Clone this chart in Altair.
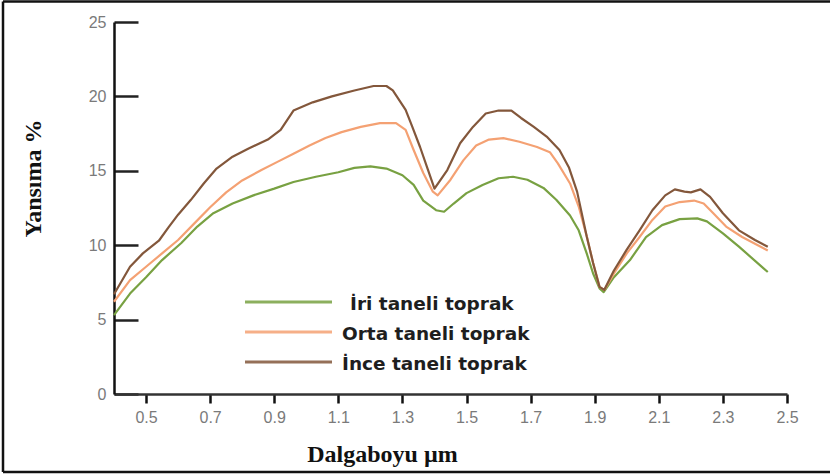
import altair as alt
import pandas as pd

# Spectral reflectance of three soil textures (wavelength in µm, reflectance in %)
wl_iri = [0.40, 0.45, 0.50, 0.55, 0.61, 0.66, 0.71, 0.77, 0.835, 0.90, 0.96, 1.03, 1.10, 1.15,
          1.20, 1.25, 1.30, 1.335, 1.365, 1.405, 1.43, 1.46, 1.50, 1.55, 1.60, 1.645, 1.69,
          1.74, 1.78, 1.823, 1.85, 1.875, 1.895, 1.915, 1.928, 1.96, 2.01, 2.06, 2.11, 2.165,
          2.22, 2.25, 2.30, 2.35, 2.44]
r_iri = [5.3, 6.75, 7.85, 9.0, 10.15, 11.25, 12.15, 12.8, 13.35, 13.8, 14.25, 14.6, 14.9, 15.2,
         15.3, 15.15, 14.7, 14.05, 13.0, 12.35, 12.25, 12.8, 13.5, 14.05, 14.5, 14.6, 14.4,
         13.85, 13.05, 12.0, 11.0, 9.45, 8.1, 7.1, 6.85, 7.85, 9.0, 10.55, 11.35, 11.75,
         11.8, 11.6, 10.8, 9.9, 8.2]

wl_orta = [0.40, 0.45, 0.50, 0.55, 0.60, 0.65, 0.70, 0.75, 0.80, 0.86, 0.91, 0.96, 1.01, 1.06,
           1.11, 1.17, 1.23, 1.28, 1.31, 1.335, 1.365, 1.395, 1.41, 1.45, 1.49, 1.53, 1.57,
           1.615, 1.665, 1.72, 1.76, 1.785, 1.823, 1.85, 1.875, 1.895, 1.915, 1.93, 1.96,
           2.00, 2.04, 2.08, 2.12, 2.165, 2.21, 2.24, 2.27, 2.31, 2.36, 2.44]
r_orta = [6.2, 7.65, 8.55, 9.45, 10.35, 11.45, 12.55, 13.55, 14.35, 15.05, 15.6, 16.15, 16.7, 17.2,
          17.6, 17.95, 18.2, 18.2, 17.75, 16.4, 14.85, 13.6, 13.35, 14.4, 15.7, 16.7, 17.1,
          17.2, 16.95, 16.6, 16.25, 15.5, 14.15, 12.6, 10.6, 8.8, 7.2, 7.0, 8.1,
          9.45, 10.55, 11.7, 12.6, 12.9, 13.0, 12.8, 12.15, 11.25, 10.55, 9.65]

wl_ince = [0.40, 0.45, 0.49, 0.54, 0.57, 0.60, 0.64, 0.68, 0.72, 0.77, 0.82, 0.88, 0.92, 0.96,
           1.02, 1.08, 1.15, 1.21, 1.25, 1.27, 1.31, 1.33, 1.355, 1.38, 1.40, 1.44, 1.48,
           1.52, 1.56, 1.60, 1.64, 1.67, 1.71, 1.75, 1.79, 1.82, 1.845, 1.875, 1.895, 1.915,
           1.93, 1.96, 2.00, 2.04, 2.08, 2.12, 2.15, 2.18, 2.20, 2.23, 2.26, 2.30, 2.35,
           2.40, 2.44]
r_ince = [6.7, 8.55, 9.45, 10.3, 11.2, 12.05, 13.05, 14.15, 15.15, 15.95, 16.5, 17.1, 17.75, 19.05,
          19.6, 20.0, 20.4, 20.7, 20.7, 20.4, 19.1, 18.0, 16.6, 15.05, 13.8, 15.05, 16.85,
          17.95, 18.85, 19.05, 19.05, 18.55, 17.95, 17.3, 16.4, 15.2, 13.6, 10.6, 8.8, 7.2,
          7.0, 8.3, 9.7, 11.0, 12.35, 13.35, 13.75, 13.6, 13.55, 13.75, 13.25, 12.15, 11.0,
          10.35, 9.9]

series_names = ["İri taneli toprak", "Orta taneli toprak", "İnce taneli toprak"]
series_colors = ["#78a142", "#f4a173", "#83573b"]

x_tick_values = [0.5, 0.7, 0.9, 1.1, 1.3, 1.5, 1.7, 1.9, 2.1, 2.3, 2.5]
y_tick_values = [0, 5, 10, 15, 20, 25]

# Page layout (pixels)
W, H = 830, 476
LEFT, TOP, RIGHT_EDGE, BOTTOM_EDGE = 114, 22, 787, 394
PW, PH = RIGHT_EDGE - LEFT, BOTTOM_EDGE - TOP
Y_TICK_LEN = 24  # inward tick length on the reflectance axis, px

x_enc = alt.X(
    "wl:Q",
    scale=alt.Scale(domain=[0.4, 2.5], nice=False, zero=False),
    axis=alt.Axis(
        values=x_tick_values, format=".1f", title="Dalgaboyu µm",
        grid=False, domainColor="#333333", domainWidth=2.5,
        tickColor="#111111", tickWidth=2.5, tickSize=9,
        labelColor="#7a7a7a", labelFont="Liberation Sans", labelFontSize=16,
        labelPadding=6, labelFlush=False,
        titleFont="Liberation Serif", titleFontSize=24, titleFontWeight="bold",
        titleColor="#111111", titleX=268, titleY=67, titleAlign="center",
        titleBaseline="alphabetic", titleAnchor="start",
    ),
)
# Inward ticks on the reflectance axis are drawn as short dashed grid segments
y_enc = alt.Y(
    "r:Q",
    scale=alt.Scale(domain=[0, 25], nice=False, zero=True),
    axis=alt.Axis(
        values=y_tick_values, format="d", title="Yansıma %",
        grid=True, gridColor="#222222", gridWidth=2.5, gridOpacity=1,
        gridDash=[Y_TICK_LEN, 3000],
        domainColor="#111111", domainWidth=2.5,
        ticks=False, labelPadding=8,
        labelColor="#7a7a7a", labelFont="Liberation Sans", labelFontSize=16,
        labelFlush=False,
        titleFont="Liberation Serif", titleFontSize=24, titleFontWeight="bold",
        titleColor="#111111", titleAngle=270, titleX=-74, titleY=156,
        titleAlign="center", titleBaseline="alphabetic", titleAnchor="start",
    ),
)

layers = []

# The three reflectance curves
for name, color, wl, r in zip(series_names, series_colors,
                              [wl_iri, wl_orta, wl_ince], [r_iri, r_orta, r_ince]):
    df = pd.DataFrame({"wl": wl, "r": r, "seri": name})
    layers.append(
        alt.Chart(df).mark_line(color=color, strokeWidth=2.2, strokeJoin="round").encode(
            x=x_enc, y=y_enc
        )
    )

# Hand-placed legend block inside the plot
legend_line_x = (245 - LEFT, 332 - LEFT)
legend_rows_y = [302 - TOP, 332 - TOP, 362 - TOP]
legend_text_x = [350 - LEFT, 342 - LEFT, 342 - LEFT]
legend_df = pd.DataFrame({"seri": series_names})
for i, (name, color) in enumerate(zip(series_names, series_colors)):
    row = legend_df.iloc[[i]]
    layers.append(
        alt.Chart(row).mark_rule(color=color, strokeWidth=3, opacity=0.85).encode(
            x=alt.value(legend_line_x[0]), x2=alt.value(legend_line_x[1]),
            y=alt.value(legend_rows_y[i])
        )
    )
    layers.append(
        alt.Chart(row).mark_text(
            align="left", baseline="alphabetic", font="DejaVu Sans",
            fontSize=18.5, fontWeight="bold", color="#1e1e1e"
        ).encode(
            text="seri:N", x=alt.value(legend_text_x[i]), y=alt.value(legend_rows_y[i] + 8)
        )
    )

# Outer frame (left, top, bottom edges)
frame_df = pd.DataFrame({"k": [0]})
frame_style = dict(color="#111111", strokeWidth=2.5)
layers.append(alt.Chart(frame_df).mark_rule(**frame_style).encode(
    x=alt.value(3 - LEFT), y=alt.value(1.5 - TOP), y2=alt.value(472 - TOP)))
layers.append(alt.Chart(frame_df).mark_rule(**frame_style).encode(
    x=alt.value(3 - LEFT), x2=alt.value(W - LEFT), y=alt.value(1.5 - TOP)))
layers.append(alt.Chart(frame_df).mark_rule(**frame_style).encode(
    x=alt.value(3 - LEFT), x2=alt.value(W - LEFT), y=alt.value(472 - TOP)))

chart = alt.layer(*layers).properties(
    width=PW, height=PH,
    autosize=alt.AutoSizeParams(type="none"),
    padding={"left": LEFT, "top": TOP, "right": W - RIGHT_EDGE, "bottom": H - BOTTOM_EDGE},
    background="white",
).configure_view(stroke=None)

chart.save("out.html", embed_options={"renderer": "svg", "actions": False})
